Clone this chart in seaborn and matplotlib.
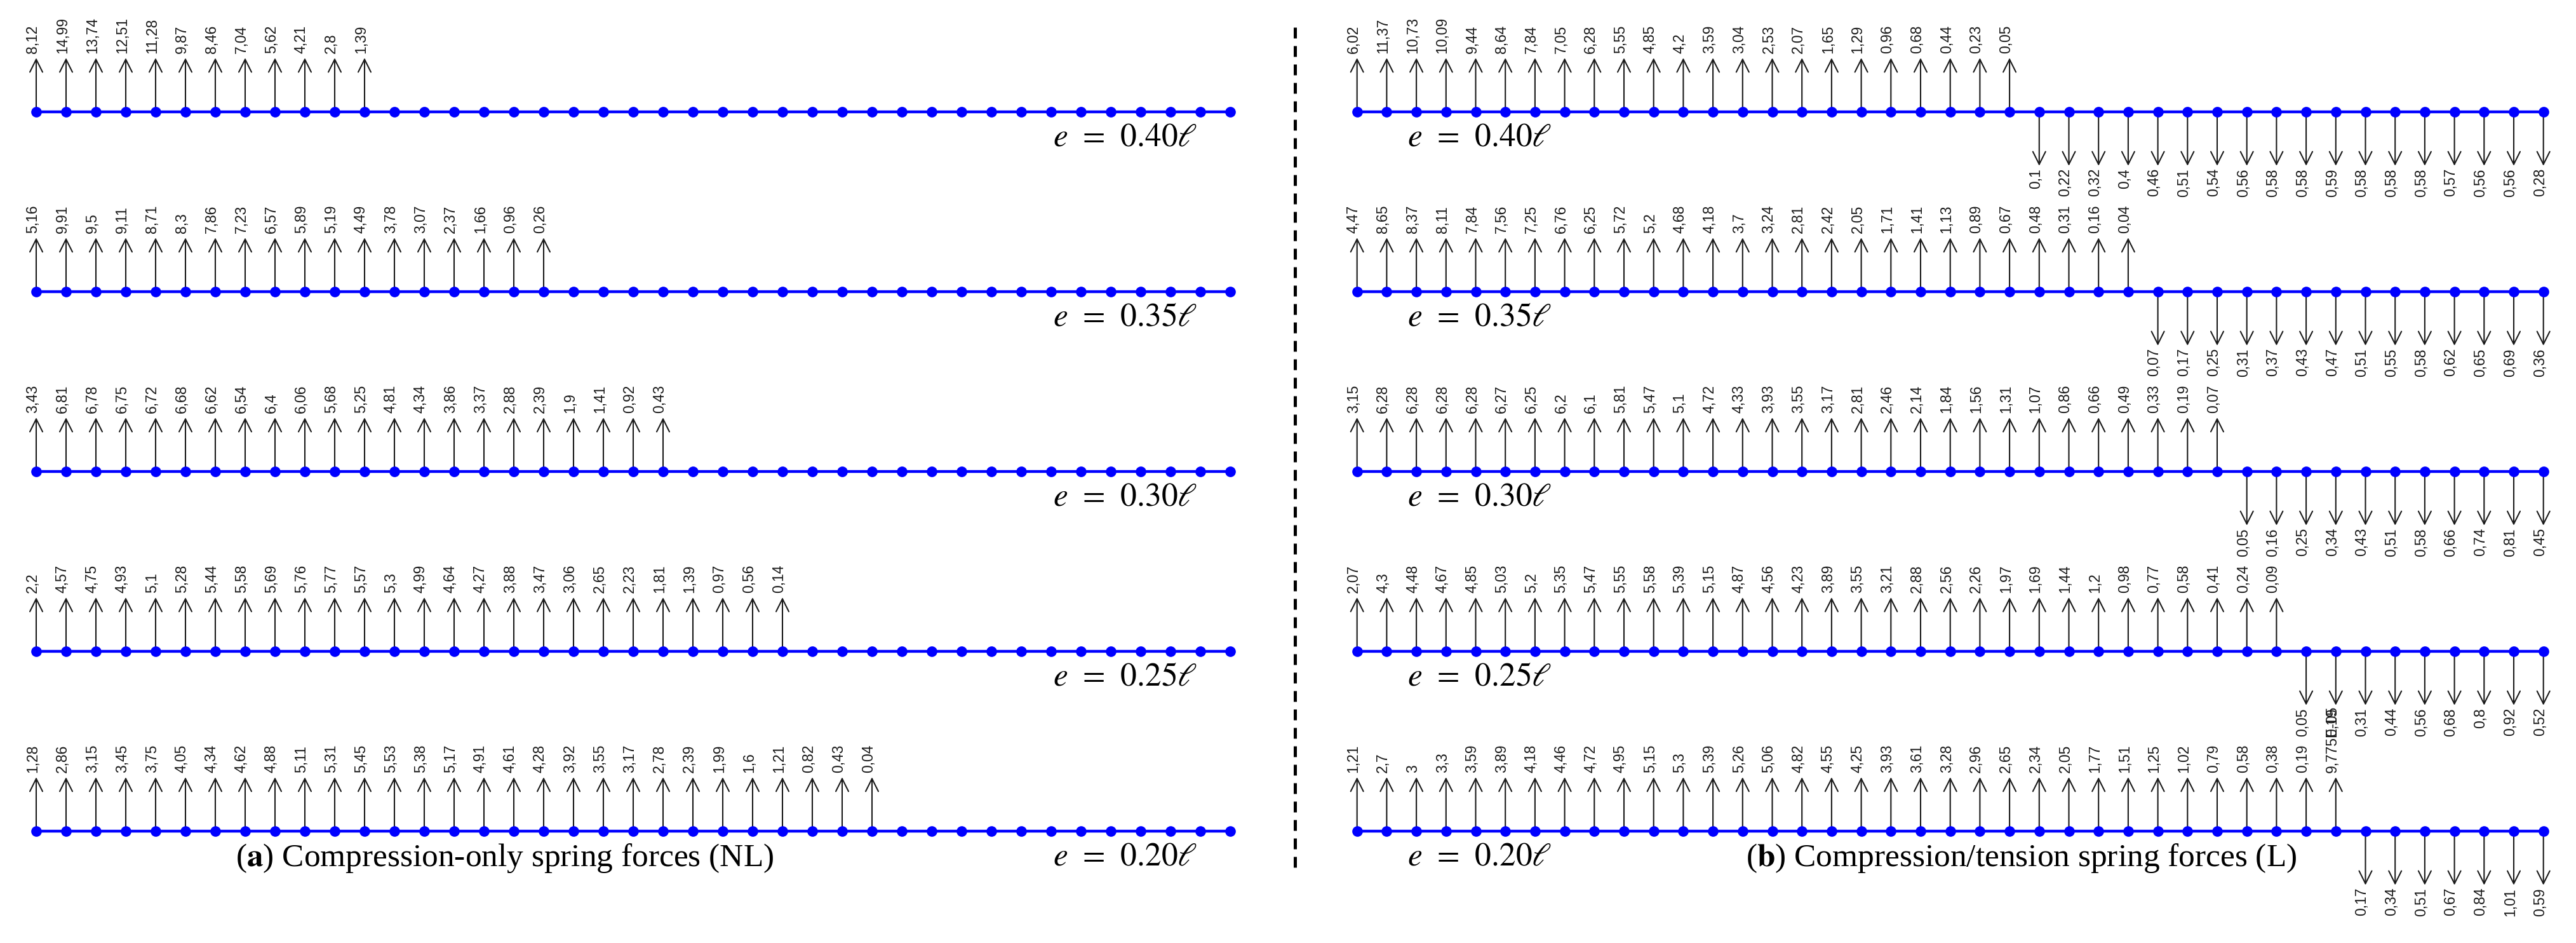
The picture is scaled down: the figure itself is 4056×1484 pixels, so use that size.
import numpy as np
import matplotlib
matplotlib.use('Agg')
import matplotlib.pyplot as plt
from matplotlib.lines import Line2D
import seaborn as sns

# Data: spring forces at the 41 beam nodes, one list per eccentricity
n_nodes = 41
node_idx = np.arange(n_nodes)
ecc_labels = ['0.40', '0.35', '0.30', '0.25', '0.20']

# (a) compression-only springs (NL) - upward forces from node 0, rest are zero
nl_e040 = [8.12, 14.99, 13.74, 12.51, 11.28, 9.87, 8.46, 7.04, 5.62, 4.21, 2.8, 1.39]
nl_e035 = [5.16, 9.91, 9.5, 9.11, 8.71, 8.3, 7.86, 7.23, 6.57, 5.89, 5.19, 4.49, 3.78,
           3.07, 2.37, 1.66, 0.96, 0.26]
nl_e030 = [3.43, 6.81, 6.78, 6.75, 6.72, 6.68, 6.62, 6.54, 6.4, 6.06, 5.68, 5.25, 4.81,
           4.34, 3.86, 3.37, 2.88, 2.39, 1.9, 1.41, 0.92, 0.43]
nl_e025 = [2.2, 4.57, 4.75, 4.93, 5.1, 5.28, 5.44, 5.58, 5.69, 5.76, 5.77, 5.57, 5.3,
           4.99, 4.64, 4.27, 3.88, 3.47, 3.06, 2.65, 2.23, 1.81, 1.39, 0.97, 0.56, 0.14]
nl_e020 = [1.28, 2.86, 3.15, 3.45, 3.75, 4.05, 4.34, 4.62, 4.88, 5.11, 5.31, 5.45, 5.53,
           5.38, 5.17, 4.91, 4.61, 4.28, 3.92, 3.55, 3.17, 2.78, 2.39, 1.99, 1.6, 1.21,
           0.82, 0.43, 0.04]

# (b) compression/tension springs (L) - compression (up) then tension (down)
l_up_e040 = [6.02, 11.37, 10.73, 10.09, 9.44, 8.64, 7.84, 7.05, 6.28, 5.55, 4.85, 4.2,
             3.59, 3.04, 2.53, 2.07, 1.65, 1.29, 0.96, 0.68, 0.44, 0.23, 0.05]
l_dn_e040 = [0.1, 0.22, 0.32, 0.4, 0.46, 0.51, 0.54, 0.56, 0.58, 0.58, 0.59, 0.58, 0.58,
             0.58, 0.57, 0.56, 0.56, 0.28]
l_up_e035 = [4.47, 8.65, 8.37, 8.11, 7.84, 7.56, 7.25, 6.76, 6.25, 5.72, 5.2, 4.68, 4.18,
             3.7, 3.24, 2.81, 2.42, 2.05, 1.71, 1.41, 1.13, 0.89, 0.67, 0.48, 0.31, 0.16,
             0.04]
l_dn_e035 = [0.07, 0.17, 0.25, 0.31, 0.37, 0.43, 0.47, 0.51, 0.55, 0.58, 0.62, 0.65,
             0.69, 0.36]
l_up_e030 = [3.15, 6.28, 6.28, 6.28, 6.28, 6.27, 6.25, 6.2, 6.1, 5.81, 5.47, 5.1, 4.72,
             4.33, 3.93, 3.55, 3.17, 2.81, 2.46, 2.14, 1.84, 1.56, 1.31, 1.07, 0.86, 0.66,
             0.49, 0.33, 0.19, 0.07]
l_dn_e030 = [0.05, 0.16, 0.25, 0.34, 0.43, 0.51, 0.58, 0.66, 0.74, 0.81, 0.45]
l_up_e025 = [2.07, 4.3, 4.48, 4.67, 4.85, 5.03, 5.2, 5.35, 5.47, 5.55, 5.58, 5.39, 5.15,
             4.87, 4.56, 4.23, 3.89, 3.55, 3.21, 2.88, 2.56, 2.26, 1.97, 1.69, 1.44, 1.2,
             0.98, 0.77, 0.58, 0.41, 0.24, 0.09]
l_dn_e025 = [0.05, 0.19, 0.31, 0.44, 0.56, 0.68, 0.8, 0.92, 0.52]
l_up_e020 = [1.21, 2.7, 3, 3.3, 3.59, 3.89, 4.18, 4.46, 4.72, 4.95, 5.15, 5.3, 5.39, 5.26,
             5.06, 4.82, 4.55, 4.25, 3.93, 3.61, 3.28, 2.96, 2.65, 2.34, 2.05, 1.77, 1.51,
             1.25, 1.02, 0.79, 0.58, 0.38, 0.19, 9.775e-05]
l_dn_e020 = [0.17, 0.34, 0.51, 0.67, 0.84, 1.01, 0.59]

nl_up = [nl_e040, nl_e035, nl_e030, nl_e025, nl_e020]
l_up = [l_up_e040, l_up_e035, l_up_e030, l_up_e025, l_up_e020]
l_dn = [l_dn_e040, l_dn_e035, l_dn_e030, l_dn_e025, l_dn_e020]


def fmt(v):
    # comma decimals like the original export
    if v < 0.005:
        s = f"{v:.3E}"
    else:
        s = f"{v:.2f}".rstrip('0').rstrip('.')
    return s.replace('.', ',')


sns.set_style('white')
plt.rcParams['mathtext.fontset'] = 'stix'

W, H = 4056, 1484
fig = plt.figure(figsize=(W / 100, H / 100), dpi=100)

arrow_len = 0.30
label_kw = dict(fontsize=16.5, family='Liberation Sans', color='#1a1a1a', rotation=90)
arrow_kw = dict(arrowstyle='->,head_length=0.6,head_width=0.3', color='#1a1a1a',
                lw=1.5, shrinkA=0, shrinkB=0, mutation_scale=24)


def make_axes(left_px, spacing):
    ax = fig.add_axes([left_px / W, 0, 42 * spacing / W, 1])
    ax.set_xlim(-1, 41)
    ax.set_ylim(4.622, -0.622)
    ax.axis('off')
    return ax


def draw_row(ax, r, up_vals, dn_vals):
    sns.lineplot(x=node_idx, y=np.full(n_nodes, float(r)), ax=ax, color='#0000ff',
                 linewidth=3.2, marker='o', markersize=12, markeredgewidth=0,
                 estimator=None, sort=False, zorder=3)
    for i, v in enumerate(up_vals):
        ax.annotate('', xy=(i, r - arrow_len), xytext=(i, r), arrowprops=arrow_kw, zorder=2)
        ax.annotate(fmt(v), xy=(i, r - arrow_len), xytext=(-4, 5), textcoords='offset points',
                    ha='center', va='bottom', **label_kw)
    start = len(up_vals)
    for j, v in enumerate(dn_vals):
        i = start + j
        ax.annotate('', xy=(i, r + arrow_len), xytext=(i, r), arrowprops=arrow_kw, zorder=2)
        ax.annotate(fmt(v), xy=(i, r + arrow_len), xytext=(-4, -3), textcoords='offset points',
                    ha='center', va='top', **label_kw)


serif = dict(family='Liberation Serif', fontsize=37, color='black')


def ecc_text(e):
    return rf'$e\;\,=\;\,{e}\ell$'


# (a) left panel
axL = make_axes(10, 47.0)
for r in range(5):
    draw_row(axL, r, nl_up[r], [])
    axL.text(38.9, r + 0.15, ecc_text(ecc_labels[r]), ha='right', va='center', **serif)
axL.text(15.7, 4 + 0.15, r'($\mathbf{a}$) Compression-only spring forces (NL)',
         ha='center', va='center', **serif)

# (b) right panel
axR = make_axes(2090, 46.7)
for r in range(5):
    draw_row(axR, r, l_up[r], l_dn[r])
    axR.text(1.7, r + 0.15, ecc_text(ecc_labels[r]), ha='left', va='center', **serif)
axR.text(22.4, 4 + 0.15, r'($\mathbf{b}$) Compression/tension spring forces (L)',
         ha='center', va='center', **serif)

# dashed separator between panels
fig.add_artist(Line2D([2039 / W, 2039 / W], [1 - 43 / H, 1 - 1372 / H], color='black',
                      linewidth=3.6, linestyle=(0, (3.4, 2.4))))

fig.savefig('out.png', dpi=100)
